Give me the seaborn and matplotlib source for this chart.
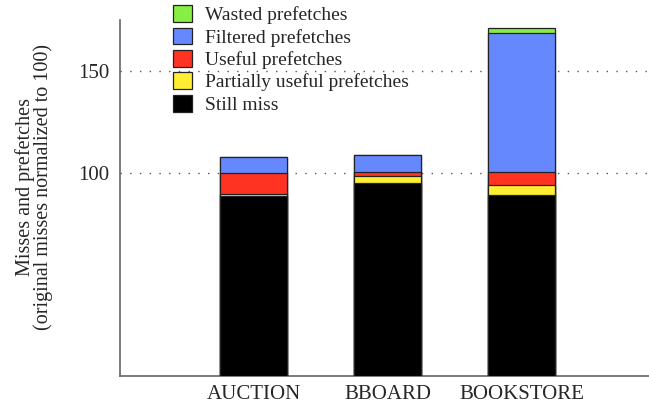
import pandas as pd
import matplotlib
matplotlib.use("Agg")
import matplotlib.pyplot as plt
import seaborn as sns
from matplotlib.patches import Patch

# ==========================================
# Data
# ==========================================

benchmarks = ["AUCTION", "BBOARD", "BOOKSTORE"]

still_miss = [88.7, 95.1, 89.2]
partially_useful = [0.6, 3.4, 4.8]
useful = [10.7, 2.0, 6.1]
filtered = [7.8, 8.1, 68.3]
wasted = [0.0, 0.3, 2.5]

layer_names = [
    "Still miss",
    "Partially useful prefetches",
    "Useful prefetches",
    "Filtered prefetches",
    "Wasted prefetches",
]
layer_values = [still_miss, partially_useful, useful, filtered, wasted]
layer_colors = ["#000000", "#ffee33", "#ff3322", "#6688ff", "#88ee44"]

# ==========================================
# Stacked table (cumulative tops)
# ==========================================

df = pd.DataFrame(dict(zip(layer_names, layer_values)), index=benchmarks)
cum = df.cumsum(axis=1)
cum["benchmark"] = benchmarks

# ==========================================
# Plot
# ==========================================

sns.set_style("white")
plt.rcParams["font.family"] = ["Liberation Serif", "DejaVu Serif"]

fig = plt.figure(figsize=(6.49, 4.08), dpi=100)
ax = fig.add_axes([0.185, 0.078, 0.815, 0.873])

# draw tallest layer first so the lower layers sit on top of it
for name, color in reversed(list(zip(layer_names, layer_colors))):
    sns.barplot(
        data=cum,
        x="benchmark",
        y=name,
        color=color,
        width=0.5,
        errorbar=None,
        edgecolor="#222222",
        linewidth=0.9,
        saturation=1,
        ax=ax,
        zorder=3,
    )

for yv in [100, 150]:
    ax.axhline(yv, color="#555555", linestyle=(0, (1, 6)), linewidth=1.0, zorder=1)

ax.set_xlim(-1, 2.95)
ax.set_ylim(0, 175)
ax.set_yticks([100, 150])
ax.tick_params(axis="y", direction="in", length=6, color="#666666", labelsize=15, pad=8)
ax.tick_params(axis="x", length=0, labelsize=15, pad=6)

ax.set_xlabel("")
ax.set_ylabel("Misses and prefetches\n(original misses normalized to 100)",
              fontsize=14.5, linespacing=0.85, labelpad=18)
ax.yaxis.label.set_y(0.53)

for side in ["top", "right"]:
    ax.spines[side].set_visible(False)
for side in ["left", "bottom"]:
    ax.spines[side].set_color("#666666")
    ax.spines[side].set_linewidth(1.2)

handles = [
    Patch(facecolor=c, edgecolor="#222222", linewidth=0.9, label=n)
    for n, c in reversed(list(zip(layer_names, layer_colors)))
]
fig.legend(
    handles=handles,
    loc="upper left",
    bbox_to_anchor=(0.24, 1.03),
    frameon=False,
    fontsize=14,
    handlelength=0.95,
    handleheight=0.95,
    handletextpad=0.7,
    labelspacing=0.17,
)

fig.savefig("out.png", dpi=100)
